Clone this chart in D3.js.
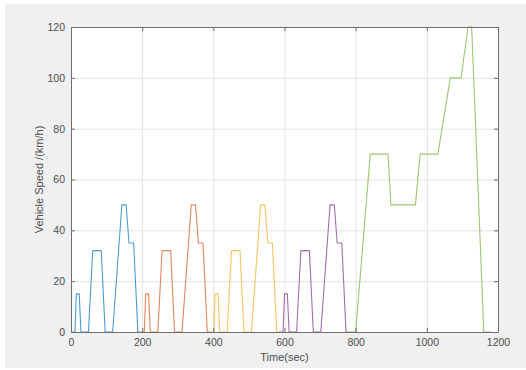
<!DOCTYPE html>
<html>
<head>
<meta charset="utf-8">
<script src="https://cdn.jsdelivr.net/npm/d3@7/dist/d3.min.js"></script>
<style>
  html, body { margin: 0; padding: 0; background: #ffffff; }
  svg { display: block; font-family: Arial, "Liberation Sans", Helvetica, sans-serif; }
</style>
</head>
<body>
<svg id="chart" width="526" height="370"></svg>
<script>
// ECE-15 urban cycles (time in s, speed in km/h)
const ece1Time = [0, 11, 15, 23, 28, 49, 61, 85, 96, 117, 143, 155, 163, 176, 188, 195];
const ece2Time = [195, 206, 210, 218, 223, 244, 256, 280, 291, 312, 338, 350, 358, 371, 383, 390];
const ece3Time = [390, 401, 405, 413, 418, 439, 451, 475, 486, 507, 533, 545, 553, 566, 578, 585];
const ece4Time = [585, 596, 600, 608, 613, 634, 646, 670, 681, 702, 728, 740, 748, 761, 773, 780];
const eceSpeed = [0, 0, 15, 15, 0, 0, 32, 32, 0, 0, 50, 50, 35, 35, 0, 0];
// Extra-urban cycle
const eudcTime  = [780, 800, 841, 891, 899, 968, 981, 1031, 1066, 1096, 1116, 1126, 1160, 1180];
const eudcSpeed = [0, 0, 70, 70, 50, 50, 70, 70, 100, 100, 120, 120, 0, 0];

const xTicks = [0, 200, 400, 600, 800, 1000, 1200];
const yTicks = [0, 20, 40, 60, 80, 100, 120];
const xLabel = "Time(sec)";
const yLabel = "Vehicle Speed /(km/h)";

const seriesList = [
  { t: ece1Time, v: eceSpeed, color: "#0072BD" },
  { t: ece2Time, v: eceSpeed, color: "#D95319" },
  { t: ece3Time, v: eceSpeed, color: "#EDB120" },
  { t: ece4Time, v: eceSpeed, color: "#7E2F8E" },
  { t: eudcTime, v: eudcSpeed, color: "#77AC30" }
];

const svg = d3.select("#chart");
// figure background
svg.append("rect").attr("x", 5).attr("y", 4).attr("width", 521).attr("height", 364).attr("fill", "#f0f0f0");

const L = 71, R = 498, T = 27, B = 332;
const x = d3.scaleLinear().domain([0, 1200]).range([L, R]);
const y = d3.scaleLinear().domain([0, 120]).range([B, T]);

svg.append("rect").attr("x", L).attr("y", T).attr("width", R - L).attr("height", B - T).attr("fill", "#ffffff");

// grid
const grid = svg.append("g").attr("stroke", "#e3e3e3").attr("stroke-width", 1);
xTicks.forEach(d => grid.append("line").attr("x1", x(d) + 0.5).attr("x2", x(d) + 0.5).attr("y1", T).attr("y2", B));
yTicks.forEach(d => grid.append("line").attr("x1", L).attr("x2", R).attr("y1", y(d) + 0.5).attr("y2", y(d) + 0.5));

// lines
const line = d3.line().x(d => x(d[0])).y(d => y(d[1]));
seriesList.forEach(s => {
  const pts = s.t.map((t, i) => [t, s.v[i]]);
  svg.append("path").datum(pts).attr("d", line)
    .attr("fill", "none").attr("stroke", s.color)
    .attr("stroke-width", 1.1).attr("stroke-opacity", 0.7)
    .attr("stroke-linejoin", "round");
});

// axes (MATLAB style: ticks inward, box)
const axisColor = "#6e6e6e";
const textColor = "#4d4d4d";
const fmt = d3.format("d");
const xAxisB = d3.axisBottom(x).tickValues(xTicks).tickFormat(fmt).tickSizeInner(-4).tickSizeOuter(0).tickPadding(7);
const yAxisL = d3.axisLeft(y).tickValues(yTicks).tickFormat(fmt).tickSizeInner(-4).tickSizeOuter(0).tickPadding(6);
const xAxisT = d3.axisTop(x).tickValues(xTicks).tickSizeInner(-4).tickSizeOuter(0).tickFormat("");
const yAxisR = d3.axisRight(y).tickValues(yTicks).tickSizeInner(-4).tickSizeOuter(0).tickFormat("");

function styleAxis(g) {
  g.selectAll("path").attr("stroke", axisColor);
  g.selectAll("line").attr("stroke", axisColor);
  g.selectAll("text").attr("fill", textColor).style("font-size", "10.5px");
}
svg.append("g").attr("transform", `translate(0,${B})`).call(xAxisB).call(styleAxis);
svg.append("g").attr("transform", `translate(${L},0)`).call(yAxisL).call(styleAxis);
svg.append("g").attr("transform", `translate(0,${T})`).call(xAxisT).call(styleAxis);
svg.append("g").attr("transform", `translate(${R},0)`).call(yAxisR).call(styleAxis);

svg.append("text").attr("x", (L + R) / 2).attr("y", 361)
  .attr("text-anchor", "middle").attr("fill", textColor).style("font-size", "11px").text(xLabel);
svg.append("text").attr("transform", `translate(43,${(T + B) / 2}) rotate(-90)`)
  .attr("text-anchor", "middle").attr("fill", textColor).style("font-size", "11px").text(yLabel);
</script>
</body>
</html>
